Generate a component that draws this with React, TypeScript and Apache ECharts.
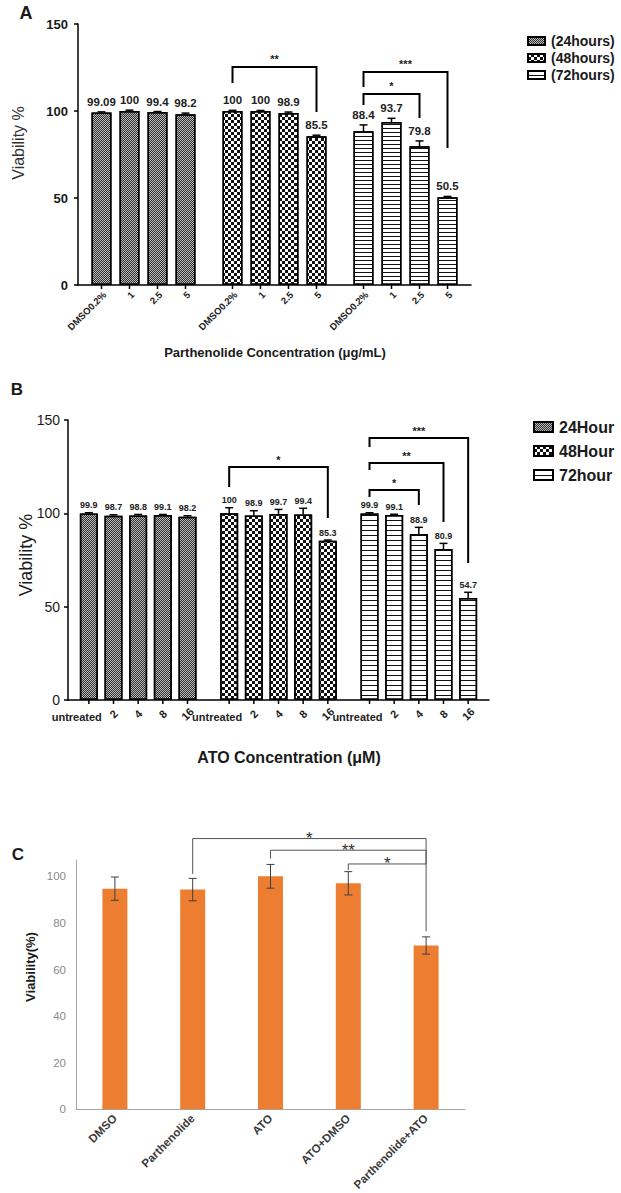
import React, { useEffect, useRef } from 'react';
import * as echarts from 'echarts';

// ---------------- Panel A data ----------------
const A_GROUPS = ['24hours', '48hours', '72hours'];
const A_LEGEND = ['(24hours)', '(48hours)', '(72hours)'];
const A_CONC = ['DMSO0.2%', '1', '2.5', '5'];
const A_24 = [99.09, 100, 99.4, 98.2];
const A_48 = [100, 100, 98.9, 85.5];
const A_72 = [88.4, 93.7, 79.8, 50.5];
const A_24_ERR = [0.4, 0.5, 0.3, 0.6];
const A_48_ERR = [0.4, 0.3, 0.5, 0.6];
const A_72_ERR = [3.6, 2.1, 3.0, 0.4];
const A_Y_TICKS = [0, 50, 100, 150];
const A_BRACKETS = [
  { group: 1, from: 0, to: 3, top: 125.3, left: 116.1, right: 99.4, text: '**' },
  { group: 2, from: 0, to: 3, top: 122.4, left: 113.8, right: 78.7, text: '***' },
  { group: 2, from: 0, to: 2, top: 109.8, left: 103.4, right: 96.0, text: '*' },
];

// ---------------- Panel B data ----------------
const B_GROUPS = ['24Hour', '48Hour', '72hour'];
const B_CONC = ['untreated', '2', '4', '8', '16'];
const B_24 = [99.9, 98.7, 98.8, 99.1, 98.2];
const B_48 = [100, 98.9, 99.7, 99.4, 85.3];
const B_72 = [99.9, 99.1, 88.9, 80.9, 54.7];
const B_24_ERR = [0.4, 0.5, 0.6, 0.3, 0.5];
const B_48_ERR = [3.0, 2.5, 2.4, 3.3, 0.4];
const B_72_ERR = [0.4, 0.4, 3.6, 3.0, 3.0];
const B_Y_TICKS = [0, 50, 100, 150];
const B_BRACKETS = [
  { group: 1, from: 0, to: 4, top: 124.8, left: 114.1, right: 97.5, text: '*' },
  { group: 2, from: 0, to: 4, top: 140.4, left: 135.5, right: 73.4, text: '***' },
  { group: 2, from: 0, to: 3, top: 127.0, left: 123.2, right: 95.4, text: '**' },
  { group: 2, from: 0, to: 2, top: 112.5, left: 108.8, right: 104.5, text: '*' },
];

// ---------------- Panel C data ----------------
const C_CATS = ['DMSO', 'Parthenolide', 'ATO', 'ATO+DMSO', 'Parthenolide+ATO'];
const C_VALUES = [94.7, 94.3, 100, 97, 70.3];
const C_ERR = [5.0, 4.8, 5.1, 5.0, 3.7];
const C_Y_TICKS = [0, 20, 40, 60, 80, 100];
const C_BRACKETS = [
  { from: 1, to: 4, top: 116.2, left: 101.0, right: 105.3, text: '*' },
  { from: 2, to: 4, top: 111.2, left: 107.6, right: 105.3, text: '**' },
  { from: 3, to: 4, top: 105.3, left: 102.6, right: 76.4, text: '*' },
];

// ---------------- styles ----------------
const FONT = 'Liberation Sans, Arial, sans-serif';
const DECAL_FINE = { symbol: 'rect', symbolSize: 1, color: '#2e2e2e', dashArrayX: [[1, 1], [0, 1, 1, 0]], dashArrayY: [1, 0], rotation: 0 };
const DECAL_CHECK = { symbol: 'rect', symbolSize: 1, color: '#111111', dashArrayX: [[3, 3], [0, 3, 3, 0]], dashArrayY: [3, 0], rotation: 0 };
const DECAL_STRIPE_A = { symbol: 'rect', symbolSize: 1, color: '#111111', dashArrayX: [1, 0], dashArrayY: [1, 3], rotation: 0 };
const DECAL_STRIPE_B = { symbol: 'rect', symbolSize: 1, color: '#111111', dashArrayX: [1, 0], dashArrayY: [1, 3.5], rotation: 0 };
const FILLS = ['#bdbdbd', '#ffffff', '#ffffff'];

type PanelCfg = {
  axis: number;
  barWidth: number;
  step: number;
  cap: number;
  valueFont: number;
  labelGap: number;
  starGap: number;
  starFont: number;
  bracketWidth: number;
};

function barSeries(prefix: string, conc: string[], values: number[][], decals: any[], cfg: PanelCfg) {
  return conc.map((c, i) => ({
    type: 'bar',
    name: prefix + c,
    xAxisIndex: cfg.axis,
    yAxisIndex: cfg.axis,
    barWidth: cfg.barWidth,
    barGap: ((cfg.step - cfg.barWidth) / cfg.barWidth) * 100 + '%',
    silent: true,
    z: 2,
    itemStyle: { borderColor: '#000', borderWidth: 1.5 },
    data: values.map((vals, g) => ({
      value: vals[i],
      itemStyle: { color: FILLS[g], decal: decals[g] },
    })),
  }));
}

function overlaySeries(conc: string[], values: number[][], errs: number[][], cfg: PanelCfg, labelMode: 'A' | 'B') {
  const items: { g: number; i: number; v: number; e: number }[] = [];
  values.forEach((row, g) => row.forEach((v, i) => items.push({ g, i, v, e: errs[g][i] })));
  const n = conc.length;
  return {
    type: 'custom',
    xAxisIndex: cfg.axis,
    yAxisIndex: cfg.axis,
    silent: true,
    z: 5,
    data: items.map((it) => [it.g, it.v]),
    renderItem: (params: any, api: any) => {
      const it = items[params.dataIndex];
      const base = api.coord([it.g, 0]);
      const x = base[0] + (it.i - (n - 1) / 2) * cfg.step;
      const y0 = base[1];
      const yv = api.coord([it.g, it.v])[1];
      const ye = api.coord([it.g, it.v + it.e])[1];
      const stroke = { stroke: '#000', lineWidth: 1.5 };
      const children: any[] = [
        { type: 'line', shape: { x1: x, y1: yv, x2: x, y2: ye }, style: stroke },
        { type: 'line', shape: { x1: x - cfg.cap, y1: ye, x2: x + cfg.cap, y2: ye }, style: stroke },
        {
          type: 'text',
          x,
          y: ye - cfg.labelGap,
          style: {
            text: String(it.v),
            align: 'center',
            verticalAlign: 'bottom',
            fontSize: cfg.valueFont,
            fontWeight: 'bold',
            fontFamily: FONT,
            fill: '#222',
          },
        },
        { type: 'line', shape: { x1: x, y1: y0, x2: x, y2: y0 + 4 }, style: stroke },
      ];
      if (labelMode === 'A') {
        children.push({
          type: 'text',
          x: x + 3,
          y: y0 + 8,
          rotation: Math.PI / 4,
          style: { text: conc[it.i], align: 'right', verticalAlign: 'middle', fontSize: 9.5, fontWeight: 'bold', fontFamily: FONT, fill: '#222' },
        });
      } else if (it.i === 0) {
        children.push({
          type: 'text',
          x: x + 13,
          y: y0 + 17,
          style: { text: conc[it.i], align: 'right', verticalAlign: 'middle', fontSize: 11, fontWeight: 'bold', fontFamily: FONT, fill: '#222' },
        });
      } else {
        children.push({
          type: 'text',
          x,
          y: y0 + 14,
          rotation: Math.PI / 4,
          style: { text: conc[it.i], align: 'center', verticalAlign: 'middle', fontSize: 11, fontWeight: 'bold', fontFamily: FONT, fill: '#222' },
        });
      }
      return { type: 'group', children };
    },
  };
}

function bracketSeries(brackets: any[], n: number, cfg: PanelCfg) {
  return {
    type: 'custom',
    xAxisIndex: cfg.axis,
    yAxisIndex: cfg.axis,
    silent: true,
    z: 6,
    data: brackets.map((b) => [b.group, b.top]),
    renderItem: (params: any, api: any) => {
      const b = brackets[params.dataIndex];
      const c = api.coord([b.group, b.top]);
      const xL = c[0] + (b.from - (n - 1) / 2) * cfg.step;
      const xR = c[0] + (b.to - (n - 1) / 2) * cfg.step;
      const yT = c[1];
      const yL = api.coord([b.group, b.left])[1];
      const yR = api.coord([b.group, b.right])[1];
      return {
        type: 'group',
        children: [
          {
            type: 'polyline',
            shape: { points: [[xL, yL], [xL, yT], [xR, yT], [xR, yR]] },
            style: { stroke: '#000', lineWidth: cfg.bracketWidth, fill: 'none' },
          },
          {
            type: 'text',
            x: (xL + xR) / 2,
            y: yT - cfg.starGap,
            style: { text: b.text, align: 'center', verticalAlign: 'middle', fontSize: cfg.starFont, fontWeight: 'bold', fontFamily: FONT, fill: '#222' },
          },
        ],
      };
    },
  };
}

function buildOption() {
  const cfgA: PanelCfg = { axis: 0, barWidth: 20, step: 28, cap: 4, valueFont: 11.5, labelGap: 4, starGap: 8, starFont: 11, bracketWidth: 2 };
  const cfgB: PanelCfg = { axis: 1, barWidth: 18, step: 24.66, cap: 4, valueFont: 9, labelGap: 3, starGap: 7, starFont: 11, bracketWidth: 2 };

  const valueAxisAB = (idx: number, ticks: number[], labelStyle: any, margin: number) => ({
    gridIndex: idx,
    type: 'value',
    min: ticks[0],
    max: ticks[ticks.length - 1],
    interval: ticks[1] - ticks[0],
    axisLine: { show: true, lineStyle: { color: '#000', width: 1.5 } },
    axisTick: { show: true, length: 4, lineStyle: { color: '#000', width: 1.5 } },
    axisLabel: { ...labelStyle, fontFamily: FONT, color: '#1a1a1a', margin },
    splitLine: { show: false },
  });

  const catAxisAB = (idx: number, groups: string[]) => ({
    gridIndex: idx,
    type: 'category',
    data: groups,
    axisLine: { show: true, lineStyle: { color: '#000', width: 1.5 } },
    axisTick: { show: false },
    axisLabel: { show: false },
  });

  const cSeriesErr = {
    type: 'custom',
    xAxisIndex: 2,
    yAxisIndex: 2,
    silent: true,
    z: 5,
    data: C_VALUES.map((v, i) => [i, v]),
    renderItem: (params: any, api: any) => {
      const i = params.dataIndex;
      const v = C_VALUES[i];
      const e = C_ERR[i];
      const hi = api.coord([i, v + e]);
      const lo = api.coord([i, v - e]);
      const x = hi[0];
      const st = { stroke: '#3f3f3f', lineWidth: 1 };
      return {
        type: 'group',
        children: [
          { type: 'line', shape: { x1: x, y1: hi[1], x2: x, y2: lo[1] }, style: st },
          { type: 'line', shape: { x1: x - 4, y1: hi[1], x2: x + 4, y2: hi[1] }, style: st },
          { type: 'line', shape: { x1: x - 4, y1: lo[1], x2: x + 4, y2: lo[1] }, style: st },
        ],
      };
    },
  };

  const cBrackets = {
    type: 'custom',
    xAxisIndex: 2,
    yAxisIndex: 2,
    silent: true,
    z: 6,
    data: C_BRACKETS.map((b) => [b.from, b.top]),
    renderItem: (params: any, api: any) => {
      const b = C_BRACKETS[params.dataIndex];
      const pL = api.coord([b.from, b.top]);
      const pR = api.coord([b.to, b.top]);
      const yL = api.coord([b.from, b.left])[1];
      const yR = api.coord([b.to, b.right])[1];
      return {
        type: 'group',
        children: [
          {
            type: 'polyline',
            shape: { points: [[pL[0], yL], [pL[0], pL[1]], [pR[0], pR[1]], [pR[0], yR]] },
            style: { stroke: '#555', lineWidth: 1, fill: 'none' },
          },
          {
            type: 'text',
            x: (pL[0] + pR[0]) / 2,
            y: pL[1],
            style: { text: b.text, align: 'center', verticalAlign: 'middle', fontSize: 17, fontFamily: FONT, fill: '#333' },
          },
        ],
      };
    },
  };

  const titleText = (text: string, x: number, y: number, size: number, weight: string, rotate = 0, color = '#1a1a1a') => ({
    type: 'text',
    x,
    y,
    rotation: rotate,
    silent: true,
    style: { text, align: 'center', verticalAlign: 'middle', fontSize: size, fontWeight: weight, fontFamily: FONT, fill: color },
  });

  const legendDummy = (name: string, color: string, decal: any) => ({
    type: 'bar',
    name,
    xAxisIndex: 3,
    yAxisIndex: 3,
    data: [],
    itemStyle: { color, decal, borderColor: '#000', borderWidth: 1 },
  });

  return {
    animation: false,
    backgroundColor: '#ffffff',
    grid: [
      { left: 78, top: 24, width: 393, height: 261, outerBoundsMode: 'none' },
      { left: 68, top: 420, width: 421, height: 280, outerBoundsMode: 'none' },
      { left: 76, top: 860, width: 389, height: 249.3, outerBoundsMode: 'none' },
      { left: 0, top: 0, width: 1, height: 1, show: false, outerBoundsMode: 'none' },
    ],
    xAxis: [
      catAxisAB(0, A_GROUPS),
      catAxisAB(1, B_GROUPS),
      {
        gridIndex: 2,
        type: 'category',
        data: C_CATS,
        axisLine: { show: true, lineStyle: { color: '#a6a6a6', width: 1 } },
        axisTick: { show: false },
        axisLabel: { interval: 0, rotate: 45, margin: 7, fontSize: 11.5, fontWeight: 'bold', fontFamily: FONT, color: '#3a3a3a' },
      },
      { gridIndex: 3, type: 'category', data: ['x'], show: false },
    ],
    yAxis: [
      valueAxisAB(0, A_Y_TICKS, { fontSize: 13, fontWeight: 'bold' }, 10),
      valueAxisAB(1, B_Y_TICKS, { fontSize: 14, fontWeight: 'normal' }, 8),
      {
        gridIndex: 2,
        type: 'value',
        min: C_Y_TICKS[0],
        max: 107,
        interval: C_Y_TICKS[1] - C_Y_TICKS[0],
        axisLine: { show: true, lineStyle: { color: '#a6a6a6', width: 1 } },
        axisTick: { show: false },
        splitLine: { show: false },
        axisLabel: {
          margin: 10,
          fontSize: 11.5,
          fontFamily: FONT,
          color: '#8a8a8a',
          formatter: (v: number) => (C_Y_TICKS.indexOf(v) >= 0 ? String(v) : ''),
        },
      },
      { gridIndex: 3, type: 'value', show: false },
    ],
    legend: [
      {
        data: A_LEGEND,
        orient: 'vertical',
        left: 522,
        top: 29,
        icon: 'rect',
        itemWidth: 17,
        itemHeight: 8,
        itemGap: 3,
        selectedMode: false,
        textStyle: { fontSize: 14, fontWeight: 'bold', fontFamily: FONT, color: '#1a1a1a', padding: [0, 0, 0, 1] },
      },
      {
        data: B_GROUPS,
        orient: 'vertical',
        left: 528,
        top: 414,
        icon: 'rect',
        itemWidth: 19,
        itemHeight: 10,
        itemGap: 8,
        selectedMode: false,
        textStyle: { fontSize: 16, fontWeight: 'bold', fontFamily: FONT, color: '#1a1a1a', padding: [0, 0, 0, 1] },
      },
    ],
    series: [
      ...barSeries('A ', A_CONC, [A_24, A_48, A_72], [DECAL_FINE, DECAL_CHECK, DECAL_STRIPE_A], cfgA),
      overlaySeries(A_CONC, [A_24, A_48, A_72], [A_24_ERR, A_48_ERR, A_72_ERR], cfgA, 'A'),
      bracketSeries(A_BRACKETS, A_CONC.length, cfgA),
      ...barSeries('B ', B_CONC, [B_24, B_48, B_72], [DECAL_FINE, DECAL_CHECK, DECAL_STRIPE_B], cfgB),
      overlaySeries(B_CONC, [B_24, B_48, B_72], [B_24_ERR, B_48_ERR, B_72_ERR], cfgB, 'B'),
      bracketSeries(B_BRACKETS, B_CONC.length, cfgB),
      {
        type: 'bar',
        name: 'C',
        xAxisIndex: 2,
        yAxisIndex: 2,
        barWidth: 25,
        silent: true,
        itemStyle: { color: '#ED7D31' },
        data: C_VALUES,
      },
      cSeriesErr,
      cBrackets,
      legendDummy(A_LEGEND[0], FILLS[0], DECAL_FINE),
      legendDummy(A_LEGEND[1], FILLS[1], DECAL_CHECK),
      legendDummy(A_LEGEND[2], FILLS[2], DECAL_STRIPE_A),
      legendDummy(B_GROUPS[0], FILLS[0], DECAL_FINE),
      legendDummy(B_GROUPS[1], FILLS[1], DECAL_CHECK),
      legendDummy(B_GROUPS[2], FILLS[2], DECAL_STRIPE_B),
    ],
    graphic: [
      titleText('A', 26, 13, 18, 'bold'),
      titleText('Viability %', 18, 143, 16, 'normal', Math.PI / 2, '#333'),
      titleText('Parthenolide Concentration (\u03bcg/mL)', 275, 352, 13, 'bold'),
      titleText('B', 17, 389, 17, 'bold'),
      titleText('Viability %', 26, 555, 18, 'normal', Math.PI / 2),
      titleText('ATO Concentration (\u03bcM)', 289, 757, 16, 'bold'),
      titleText('C', 18, 854, 17, 'bold'),
      titleText('Viability(%)', 30, 967, 13, 'bold', Math.PI / 2),
    ],
  };
}

export default function App() {
  const ref = useRef<HTMLDivElement>(null);
  useEffect(() => {
    if (!ref.current) return;
    const chart = echarts.init(ref.current, null, { renderer: 'svg' });
    chart.setOption(buildOption() as any);
    return () => chart.dispose();
  }, []);
  return (
    <div
      ref={ref}
      style={{ position: 'absolute', left: 0, top: 0, width: 621, height: 1193, background: '#ffffff' }}
    />
  );
}
